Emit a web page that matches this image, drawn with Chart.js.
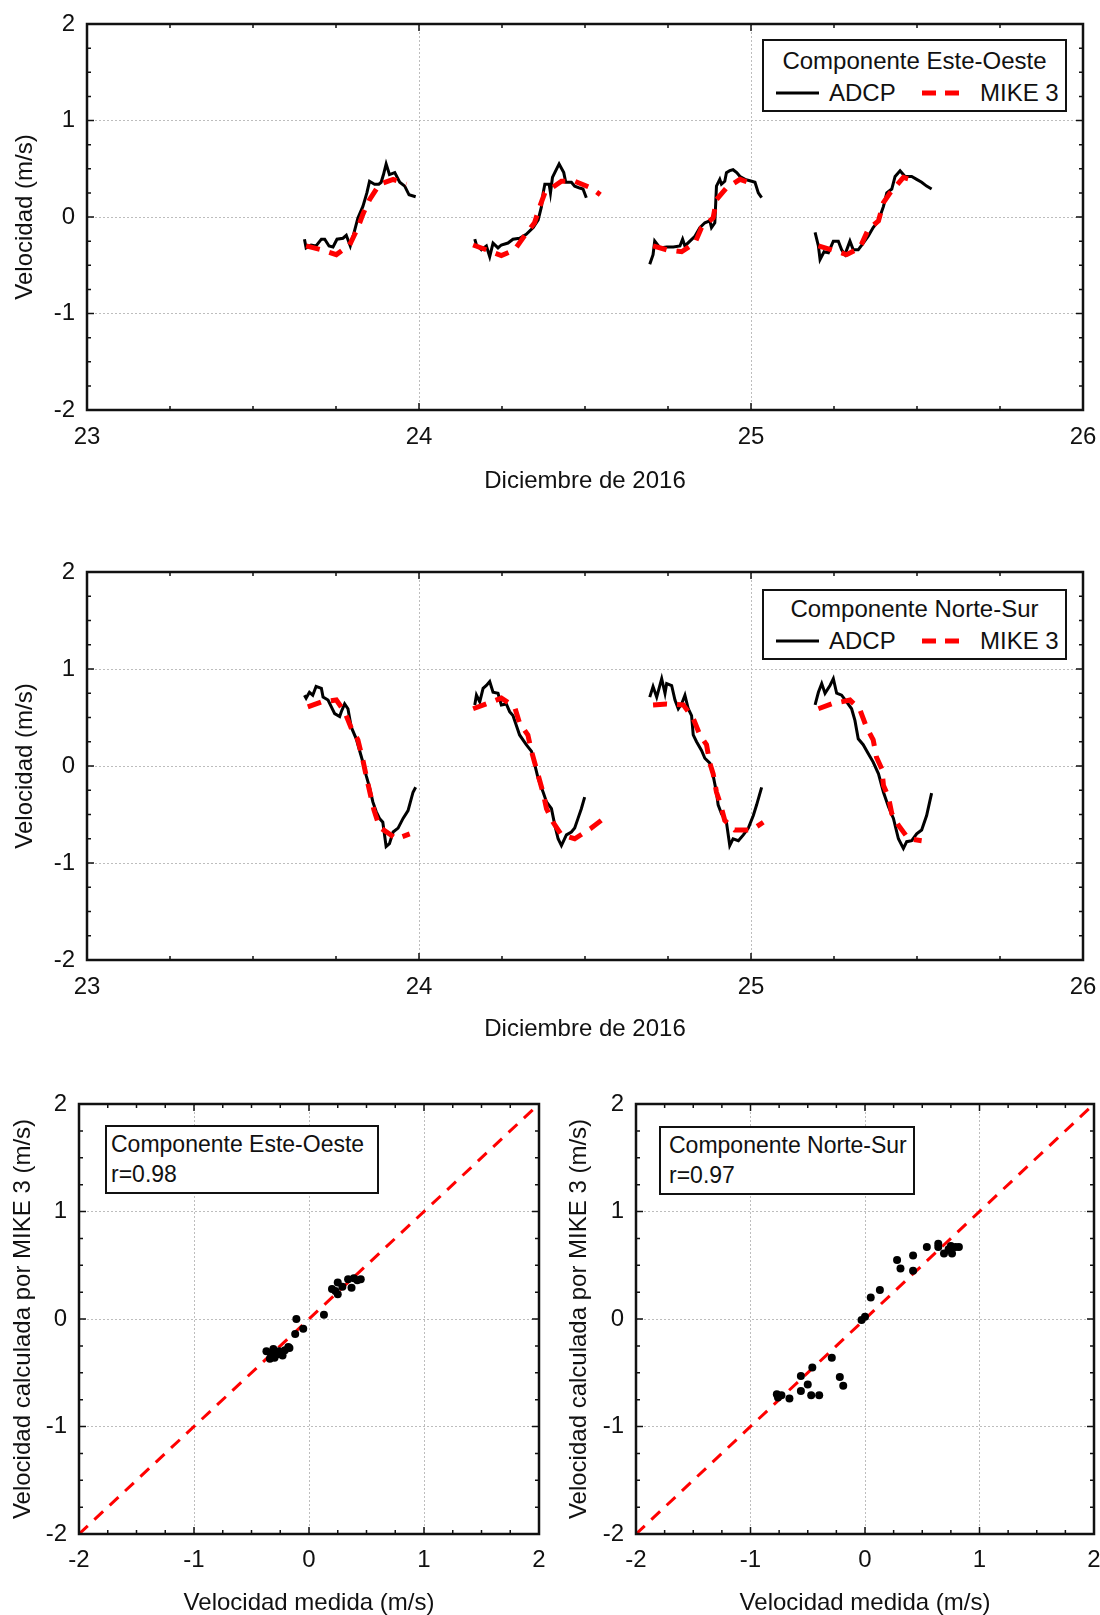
<!DOCTYPE html>
<html>
<head>
<meta charset="utf-8">
<script src="https://cdn.jsdelivr.net/npm/chart.js@4.4.1/dist/chart.umd.min.js"></script>
<style>
  body { margin: 0; background: #fff; overflow: hidden; }
  #page { position: relative; width: 1100px; height: 1615px; font-family: 'Liberation Sans', Arial, sans-serif; color: #111; }
  canvas { position: absolute; }
  .box { position: absolute; border: 2px solid #111; background: #fff; box-sizing: border-box; }
  .txt { position: absolute; white-space: nowrap; line-height: 28px; font-size: 24px; }
  .sm { font-size: 23px; }
  svg { position: absolute; overflow: visible; }
</style>
</head>
<body>
<div id="page">
  <canvas id="ewLine" width="1100" height="500" style="left:0;top:0"></canvas>
  <canvas id="nsLine" width="1100" height="500" style="left:0;top:548px"></canvas>
  <canvas id="ewScatter" width="560" height="535" style="left:0;top:1080px"></canvas>
  <canvas id="nsScatter" width="544" height="535" style="left:556px;top:1080px"></canvas>

  <!-- legend, top chart -->
  <div class="box" style="left:762px;top:39px;width:305px;height:73px"></div>
  <div class="txt" style="left:762px;top:47px;width:305px;text-align:center">Componente Este-Oeste</div>
  <svg style="left:0;top:0" width="1" height="1"><line x1="776" y1="93" x2="819" y2="93" stroke="#000" stroke-width="3"/></svg>
  <div class="txt" style="left:829px;top:79px">ADCP</div>
  <svg style="left:0;top:0" width="1" height="1"><line x1="922" y1="93" x2="965" y2="93" stroke="#ff0000" stroke-width="5" stroke-dasharray="14 9"/></svg>
  <div class="txt" style="left:980px;top:79px">MIKE 3</div>

  <!-- legend, middle chart -->
  <div class="box" style="left:762px;top:589px;width:305px;height:71px"></div>
  <div class="txt" style="left:762px;top:595px;width:305px;text-align:center">Componente Norte-Sur</div>
  <svg style="left:0;top:0" width="1" height="1"><line x1="776" y1="641" x2="819" y2="641" stroke="#000" stroke-width="3"/></svg>
  <div class="txt" style="left:829px;top:627px">ADCP</div>
  <svg style="left:0;top:0" width="1" height="1"><line x1="922" y1="641" x2="965" y2="641" stroke="#ff0000" stroke-width="5" stroke-dasharray="14 9"/></svg>
  <div class="txt" style="left:980px;top:627px">MIKE 3</div>

  <!-- legends, scatter plots -->
  <div class="box" style="left:105px;top:1125px;width:274px;height:69px"></div>
  <div class="txt sm" style="left:111px;top:1130px">Componente Este-Oeste</div>
  <div class="txt sm" style="left:111px;top:1160px">r=0.98</div>
  <div class="box" style="left:659px;top:1126px;width:256px;height:69px"></div>
  <div class="txt sm" style="left:669px;top:1131px">Componente Norte-Sur</div>
  <div class="txt sm" style="left:669px;top:1161px">r=0.97</div>
</div>

<script>
// ---- data (day of December 2016, velocity m/s) ----
const DAY_TICKS = [23, 24, 25, 26];
const VEL_TICKS = [-2, -1, 0, 1, 2];

// East-West component, ADCP (one array per tidal cycle)
const EW_ADCP = [
  [[23.655,-0.23],[23.660,-0.32],[23.675,-0.29],[23.690,-0.30],[23.706,-0.23],[23.716,-0.23],[23.729,-0.30],[23.741,-0.31],[23.753,-0.23],[23.771,-0.22],[23.781,-0.19],[23.793,-0.30],[23.803,-0.18],[23.816,-0.01],[23.831,0.11],[23.843,0.25],[23.851,0.37],[23.866,0.34],[23.879,0.34],[23.886,0.36],[23.893,0.44],[23.901,0.55],[23.911,0.44],[23.927,0.46],[23.942,0.36],[23.957,0.32],[23.970,0.23],[23.980,0.22],[23.990,0.21]],
  [[24.168,-0.23],[24.173,-0.29],[24.188,-0.34],[24.203,-0.30],[24.213,-0.41],[24.223,-0.27],[24.238,-0.32],[24.248,-0.29],[24.268,-0.27],[24.283,-0.23],[24.303,-0.22],[24.323,-0.18],[24.344,-0.11],[24.359,-0.03],[24.369,0.11],[24.374,0.25],[24.379,0.34],[24.392,0.34],[24.396,0.25],[24.402,0.41],[24.409,0.46],[24.422,0.55],[24.436,0.46],[24.442,0.36],[24.459,0.36],[24.469,0.32],[24.484,0.30],[24.494,0.29],[24.504,0.20]],
  [[24.695,-0.49],[24.705,-0.39],[24.710,-0.25],[24.726,-0.32],[24.746,-0.31],[24.766,-0.31],[24.786,-0.30],[24.794,-0.23],[24.801,-0.30],[24.816,-0.25],[24.831,-0.20],[24.846,-0.11],[24.861,-0.06],[24.876,-0.04],[24.881,-0.11],[24.891,-0.06],[24.896,0.32],[24.906,0.39],[24.911,0.34],[24.921,0.37],[24.926,0.46],[24.936,0.48],[24.946,0.49],[24.957,0.46],[24.967,0.42],[24.982,0.39],[25.002,0.37],[25.012,0.36],[25.022,0.25],[25.032,0.20]],
  [[25.193,-0.16],[25.203,-0.30],[25.208,-0.44],[25.220,-0.36],[25.233,-0.37],[25.248,-0.25],[25.263,-0.25],[25.273,-0.34],[25.283,-0.39],[25.298,-0.25],[25.308,-0.34],[25.323,-0.34],[25.338,-0.27],[25.353,-0.20],[25.368,-0.11],[25.384,-0.04],[25.399,0.11],[25.409,0.25],[25.424,0.29],[25.434,0.42],[25.449,0.48],[25.464,0.42],[25.484,0.42],[25.499,0.39],[25.514,0.36],[25.529,0.32],[25.544,0.29]]
];

// East-West component, MIKE 3
const EW_MIKE = [
  [[23.660,-0.30],[23.706,-0.34],[23.751,-0.39],[23.791,-0.29],[23.816,-0.11],[23.831,0.03],[23.851,0.18],[23.881,0.34],[23.922,0.39],[23.962,0.34]],
  [[24.163,-0.29],[24.203,-0.34],[24.248,-0.40],[24.288,-0.34],[24.323,-0.17],[24.348,-0.06],[24.364,0.11],[24.379,0.25],[24.429,0.37],[24.469,0.37],[24.519,0.30],[24.546,0.23]],
  [[24.705,-0.30],[24.746,-0.34],[24.791,-0.36],[24.831,-0.27],[24.851,-0.11],[24.886,-0.01],[24.896,0.18],[24.926,0.30],[24.967,0.39],[25.007,0.34]],
  [[25.203,-0.30],[25.243,-0.34],[25.288,-0.39],[25.328,-0.32],[25.353,-0.13],[25.384,-0.04],[25.399,0.15],[25.419,0.25],[25.459,0.41],[25.499,0.37]]
];

// North-South component, ADCP
const NS_ADCP = [
  [[23.655,0.73],[23.660,0.70],[23.670,0.76],[23.680,0.73],[23.690,0.82],[23.706,0.80],[23.711,0.71],[23.726,0.68],[23.736,0.61],[23.746,0.54],[23.761,0.51],[23.766,0.56],[23.776,0.64],[23.786,0.59],[23.796,0.40],[23.811,0.28],[23.821,0.16],[23.831,0.04],[23.841,-0.10],[23.851,-0.22],[23.861,-0.37],[23.871,-0.47],[23.881,-0.54],[23.891,-0.58],[23.901,-0.83],[23.911,-0.80],[23.922,-0.68],[23.937,-0.64],[23.952,-0.54],[23.967,-0.46],[23.982,-0.27],[23.990,-0.22]],
  [[24.168,0.63],[24.173,0.73],[24.183,0.66],[24.193,0.80],[24.203,0.83],[24.213,0.87],[24.223,0.76],[24.238,0.75],[24.248,0.63],[24.263,0.64],[24.273,0.56],[24.283,0.52],[24.293,0.42],[24.303,0.32],[24.323,0.22],[24.339,0.15],[24.349,0.01],[24.359,-0.13],[24.374,-0.27],[24.384,-0.37],[24.399,-0.44],[24.409,-0.61],[24.419,-0.75],[24.429,-0.82],[24.444,-0.71],[24.459,-0.68],[24.469,-0.64],[24.479,-0.54],[24.489,-0.44],[24.499,-0.32]],
  [[24.695,0.71],[24.705,0.82],[24.716,0.71],[24.731,0.90],[24.741,0.75],[24.746,0.85],[24.761,0.83],[24.771,0.68],[24.781,0.59],[24.791,0.64],[24.801,0.73],[24.811,0.59],[24.821,0.52],[24.826,0.32],[24.836,0.25],[24.851,0.16],[24.861,0.08],[24.876,0.03],[24.886,-0.10],[24.896,-0.27],[24.901,-0.40],[24.911,-0.49],[24.926,-0.58],[24.936,-0.82],[24.946,-0.75],[24.962,-0.77],[24.977,-0.71],[24.992,-0.64],[25.007,-0.51],[25.017,-0.40],[25.032,-0.22]],
  [[25.193,0.63],[25.203,0.76],[25.213,0.85],[25.223,0.75],[25.238,0.83],[25.248,0.90],[25.258,0.75],[25.273,0.73],[25.288,0.66],[25.303,0.59],[25.313,0.47],[25.323,0.28],[25.338,0.22],[25.353,0.13],[25.368,0.04],[25.384,-0.08],[25.399,-0.27],[25.414,-0.42],[25.429,-0.54],[25.444,-0.75],[25.459,-0.85],[25.469,-0.78],[25.484,-0.77],[25.499,-0.70],[25.514,-0.66],[25.529,-0.51],[25.544,-0.28]]
];

// North-South component, MIKE 3
const NS_MIKE = [
  [[23.665,0.61],[23.706,0.66],[23.751,0.68],[23.776,0.56],[23.796,0.39],[23.816,0.27],[23.831,0.06],[23.846,-0.18],[23.864,-0.45],[23.881,-0.63],[23.932,-0.75],[23.972,-0.70]],
  [[24.163,0.59],[24.203,0.64],[24.248,0.70],[24.288,0.61],[24.303,0.44],[24.328,0.32],[24.339,0.15],[24.374,-0.28],[24.384,-0.44],[24.404,-0.58],[24.429,-0.71],[24.469,-0.75],[24.519,-0.64],[24.549,-0.56]],
  [[24.705,0.63],[24.746,0.64],[24.796,0.63],[24.826,0.49],[24.846,0.32],[24.866,0.22],[24.876,0.03],[24.886,-0.08],[24.896,-0.27],[24.906,-0.37],[24.921,-0.56],[24.951,-0.66],[25.002,-0.66],[25.037,-0.58]],
  [[25.203,0.59],[25.243,0.64],[25.298,0.68],[25.328,0.58],[25.348,0.40],[25.368,0.27],[25.378,0.09],[25.394,-0.03],[25.399,-0.20],[25.414,-0.32],[25.424,-0.49],[25.444,-0.61],[25.474,-0.75],[25.514,-0.77]]
];

// measured (x) vs MIKE 3 (y)
const EW_SCATTER = [[-0.37,-0.30],[-0.34,-0.37],[-0.33,-0.33],[-0.31,-0.28],[-0.30,-0.36],[-0.28,-0.33],[-0.26,-0.30],[-0.23,-0.34],[-0.21,-0.29],[-0.18,-0.26],[-0.17,-0.27],[-0.11,0.00],[-0.12,-0.14],[-0.05,-0.09],[0.13,0.04],[0.20,0.28],[0.23,0.26],[0.25,0.34],[0.25,0.23],[0.29,0.30],[0.34,0.37],[0.37,0.29],[0.39,0.38],[0.45,0.37],[0.42,0.36]];
const NS_SCATTER = [[-0.77,-0.70],[-0.76,-0.73],[-0.73,-0.71],[-0.66,-0.74],[-0.56,-0.53],[-0.56,-0.67],[-0.50,-0.61],[-0.46,-0.45],[-0.47,-0.71],[-0.40,-0.71],[-0.29,-0.36],[-0.22,-0.54],[-0.19,-0.62],[-0.03,-0.01],[0.00,0.02],[0.05,0.20],[0.13,0.27],[0.28,0.55],[0.31,0.47],[0.42,0.59],[0.42,0.45],[0.54,0.67],[0.64,0.70],[0.64,0.67],[0.69,0.61],[0.73,0.65],[0.75,0.68],[0.76,0.61],[0.79,0.67],[0.82,0.67]];
const ONE_TO_ONE = [[-2,-2],[2,2]];

// ---- drawing ----
Chart.defaults.font.family = "'Liberation Sans', Arial, sans-serif";
Chart.defaults.color = '#111';
Chart.defaults.animation = false;

const toXY = arr => arr.map(([x, y]) => ({ x, y }));

// frame box plus small inward ticks every 0.25, like the original plotting package
const frameTicks = {
  id: 'frameTicks',
  afterDatasetsDraw(chart) {
    const { ctx, chartArea: a, scales: { x, y } } = chart;
    ctx.save();
    ctx.strokeStyle = '#111';
    ctx.lineWidth = 1.5;
    ctx.beginPath();
    for (let i = 0; x.min + i * 0.25 <= x.max + 1e-9; i++) {
      const px = x.getPixelForValue(x.min + i * 0.25);
      const len = i % 4 === 0 ? 7 : 4;
      ctx.moveTo(px, a.bottom); ctx.lineTo(px, a.bottom - len);
      ctx.moveTo(px, a.top); ctx.lineTo(px, a.top + len);
    }
    for (let i = 0; y.min + i * 0.25 <= y.max + 1e-9; i++) {
      const py = y.getPixelForValue(y.min + i * 0.25);
      const len = i % 4 === 0 ? 7 : 4;
      ctx.moveTo(a.left, py); ctx.lineTo(a.left + len, py);
      ctx.moveTo(a.right, py); ctx.lineTo(a.right - len, py);
    }
    ctx.stroke();
    ctx.lineWidth = 2.5;
    ctx.strokeRect(a.left, a.top, a.right - a.left, a.bottom - a.top);
    ctx.restore();
  }
};

function axis(ticks, title, opts) {
  return {
    type: 'linear',
    min: ticks[0],
    max: ticks[ticks.length - 1],
    afterBuildTicks: s => { s.ticks = ticks.map(v => ({ value: v })); },
    ticks: { padding: opts.tickPad, font: { size: 24 }, color: '#111' },
    grid: { color: '#bdbdbd', lineWidth: 1, drawTicks: false },
    border: { display: false, dash: [2, 2] },
    title: { display: true, text: title, font: { size: 24 }, color: '#111', padding: opts.titlePad },
    afterFit: s => {
      // keep the plot frame where the layout padding puts it
      s.paddingLeft = s.paddingRight = s.paddingTop = s.paddingBottom = 0;
      if (s.isHorizontal()) s.height = opts.size; else s.width = opts.size;
    }
  };
}

function timeChart(id, adcp, mike, xHeight) {
  const datasets = [];
  adcp.forEach(c => datasets.push({ data: toXY(c), borderColor: '#000', borderWidth: 3, pointRadius: 0, order: 1 }));
  mike.forEach(c => datasets.push({ data: toXY(c), borderColor: '#ff0000', borderWidth: 5, borderDash: [14, 10], pointRadius: 0, order: 0 }));
  new Chart(document.getElementById(id), {
    type: 'line',
    data: { datasets },
    options: {
      responsive: false,
      events: [],
      layout: { padding: { top: 24, right: 17, left: 0, bottom: 0 } },
      plugins: { legend: { display: false }, tooltip: { enabled: false } },
      scales: {
        x: axis(DAY_TICKS, 'Diciembre de 2016', { tickPad: 13, titlePad: { top: 0, bottom: 4 }, size: xHeight }),
        y: axis(VEL_TICKS, 'Velocidad (m/s)', { tickPad: 12, titlePad: { top: 11, bottom: 0 }, size: 87 })
      }
    },
    plugins: [frameTicks]
  });
}

function scatterChart(id, pts, yWidth, rightPad) {
  new Chart(document.getElementById(id), {
    type: 'scatter',
    data: {
      datasets: [
        { data: toXY(pts), backgroundColor: '#000', borderWidth: 0, pointRadius: 4, order: 0 },
        { data: toXY(ONE_TO_ONE), showLine: true, borderColor: '#ff0000', borderWidth: 3, borderDash: [12, 9], pointRadius: 0, order: 1 }
      ]
    },
    options: {
      responsive: false,
      events: [],
      layout: { padding: { top: 24, right: rightPad, left: 0, bottom: 0 } },
      plugins: { legend: { display: false }, tooltip: { enabled: false } },
      scales: {
        x: axis(VEL_TICKS, 'Velocidad medida (m/s)', { tickPad: 12, titlePad: { top: 0, bottom: -3 }, size: 81 }),
        y: axis(VEL_TICKS, 'Velocidad calculada por MIKE 3 (m/s)', { tickPad: 12, titlePad: { top: 9, bottom: 0 }, size: yWidth })
      }
    },
    plugins: [frameTicks]
  });
}

timeChart('ewLine', EW_ADCP, EW_MIKE, 90);
timeChart('nsLine', NS_ADCP, NS_MIKE, 88);
scatterChart('ewScatter', EW_SCATTER, 79, 21);
scatterChart('nsScatter', NS_SCATTER, 80, 6);
</script>
</body>
</html>
